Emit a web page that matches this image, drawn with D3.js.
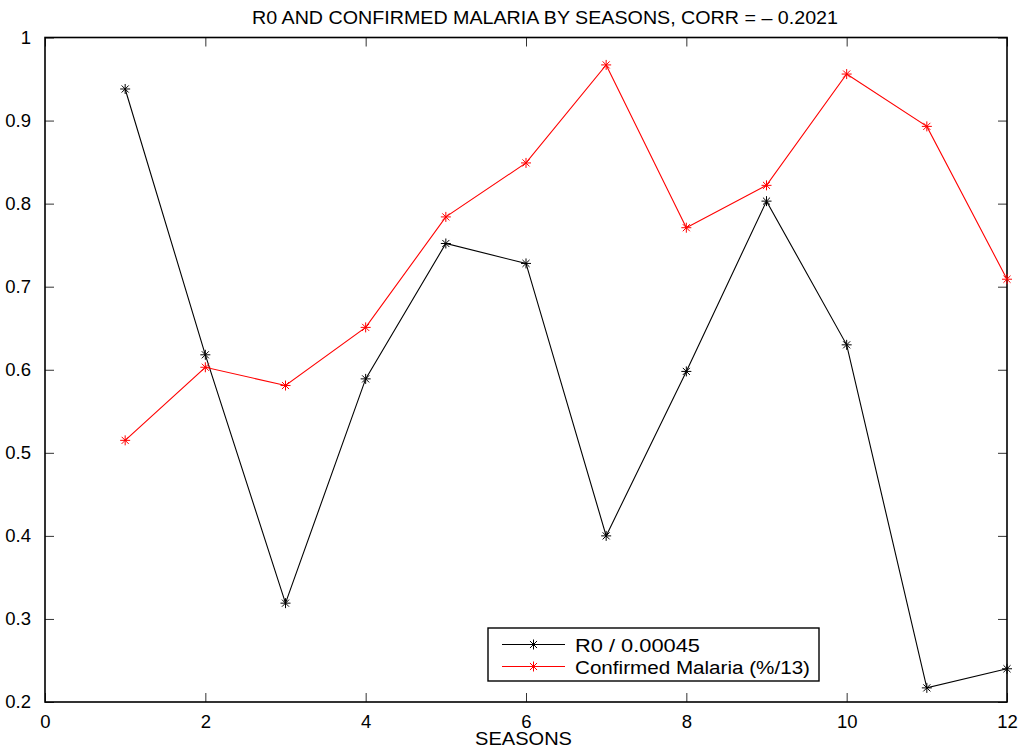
<!DOCTYPE html>
<html>
<head>
<meta charset="utf-8">
<script src="https://cdn.jsdelivr.net/npm/d3@7"></script>
<style>
  body { margin: 0; background: #fff; }
  text { font-family: "Liberation Sans", Arial, sans-serif; fill: #000; }
</style>
</head>
<body>
<svg id="chart" width="1024" height="750"></svg>
<script>
// Seasons 1..12 and the two normalised series
const seasons = [1, 2, 3, 4, 5, 6, 7, 8, 9, 10, 11, 12];
const r0Values = [0.938, 0.618, 0.319, 0.589, 0.752, 0.728, 0.400, 0.598, 0.803, 0.630, 0.217, 0.240];
const malariaValues = [0.515, 0.603, 0.581, 0.651, 0.784, 0.849, 0.967, 0.771, 0.822, 0.956, 0.893, 0.709];
const xTicks = [0, 2, 4, 6, 8, 10, 12];
const yTicks = [0.2, 0.3, 0.4, 0.5, 0.6, 0.7, 0.8, 0.9, 1];
const seriesNames = ["R0 / 0.00045", "Confirmed Malaria (%/13)"];
const seriesColors = ["#000000", "#ff0000"];
const titleText = "R0 AND CONFIRMED MALARIA BY SEASONS, CORR = \u2013 0.2021";
const xLabel = "SEASONS";

const svg = d3.select("#chart");
const plotLeft = 45, plotRight = 1007, plotTop = 37.5, plotBottom = 702;

const x = d3.scaleLinear().domain([0, 12]).range([plotLeft, plotRight]);
const y = d3.scaleLinear().domain([0.2, 1]).range([plotBottom, plotTop]);

const tickLen = 9;
// Inward ticks on all four sides
const bottomAxis = d3.axisBottom(x).tickValues(xTicks).tickSize(-tickLen).tickPadding(13).tickFormat(d3.format("d"));
const topAxis = d3.axisTop(x).tickValues(xTicks).tickSize(-tickLen).tickFormat("");
const leftAxis = d3.axisLeft(y).tickValues(yTicks).tickSize(-tickLen).tickPadding(14).tickFormat(d => d === 1 ? "1" : d3.format(".1f")(d));
const rightAxis = d3.axisRight(y).tickValues(yTicks).tickSize(-tickLen).tickFormat("");

function styleAxis(g) {
  g.select(".domain").remove();
  g.selectAll(".tick line").attr("stroke", "#333");
  g.selectAll(".tick text").style("font-size", "18.5px").style("font-family", "Liberation Sans, Arial, sans-serif");
}

svg.append("g").attr("transform", `translate(0,${plotBottom})`).call(bottomAxis).call(styleAxis);
svg.append("g").attr("transform", `translate(0,${plotTop})`).call(topAxis).call(styleAxis);
svg.append("g").attr("transform", `translate(${plotLeft},0)`).call(leftAxis).call(styleAxis);
svg.append("g").attr("transform", `translate(${plotRight},0)`).call(rightAxis).call(styleAxis);

// Frame
svg.append("rect")
  .attr("x", plotLeft).attr("y", plotTop)
  .attr("width", plotRight - plotLeft).attr("height", plotBottom - plotTop)
  .attr("fill", "none").attr("stroke", "#000").attr("stroke-width", 1.6);

// Asterisk marker path centred at origin
function starPath(r) {
  const d = r * Math.SQRT1_2;
  return `M${-r},0H${r}M0,${-r}V${r}M${-d},${-d}L${d},${d}M${-d},${d}L${d},${-d}`;
}

const series = [r0Values, malariaValues];
const line = d3.line().x((d, i) => x(seasons[i])).y(d => y(d));

series.forEach((vals, k) => {
  svg.append("path")
    .datum(vals)
    .attr("d", line)
    .attr("fill", "none")
    .attr("stroke", seriesColors[k])
    .attr("stroke-width", 1.1);
  svg.append("g").selectAll("path")
    .data(vals)
    .join("path")
    .attr("transform", (d, i) => `translate(${x(seasons[i])},${y(d)})`)
    .attr("d", starPath(5))
    .attr("stroke", seriesColors[k])
    .attr("stroke-width", 1)
    .attr("fill", "none");
});

// Title and axis label
svg.append("text")
  .attr("x", 252).attr("y", 24)
  .attr("textLength", 586).attr("lengthAdjust", "spacingAndGlyphs")
  .style("font-size", "18.5px")
  .text(titleText);

svg.append("text")
  .attr("x", 475).attr("y", 745)
  .attr("textLength", 97).attr("lengthAdjust", "spacingAndGlyphs")
  .style("font-size", "18.5px")
  .text(xLabel);

// Legend
const lg = svg.append("g");
lg.append("rect")
  .attr("x", 488).attr("y", 628)
  .attr("width", 331).attr("height", 53)
  .attr("fill", "#fff").attr("stroke", "#000").attr("stroke-width", 1.4);
const legendTextLen = [125, 235];
seriesNames.forEach((name, k) => {
  const ly = 644.5 + k * 22;
  lg.append("line")
    .attr("x1", 502).attr("x2", 565)
    .attr("y1", ly).attr("y2", ly)
    .attr("stroke", seriesColors[k]).attr("stroke-width", 1);
  lg.append("path")
    .attr("transform", `translate(${533.5},${ly})`)
    .attr("d", starPath(5))
    .attr("stroke", seriesColors[k]).attr("fill", "none");
  lg.append("text")
    .attr("x", 575).attr("y", ly + 7)
    .attr("textLength", legendTextLen[k]).attr("lengthAdjust", "spacingAndGlyphs")
    .style("font-size", "18px")
    .text(name);
});
</script>
</body>
</html>
